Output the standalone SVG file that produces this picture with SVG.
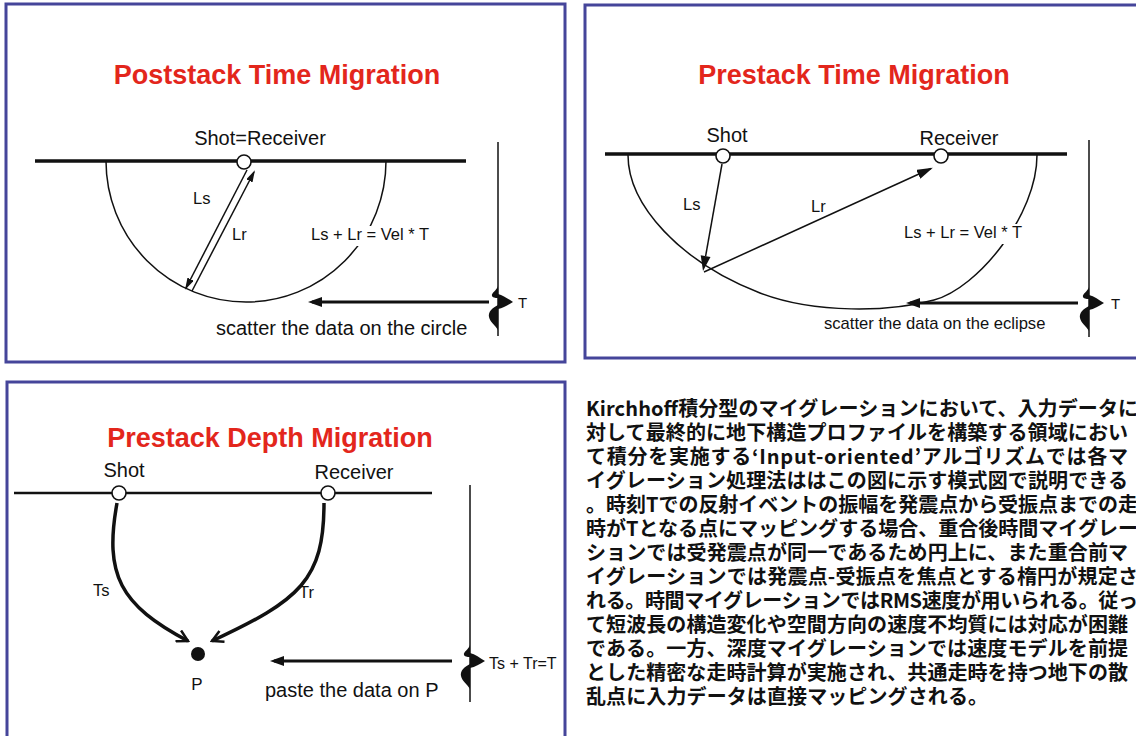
<svg xmlns="http://www.w3.org/2000/svg" width="1136" height="736" viewBox="0 0 1136 736">
<style>
.panel{fill:#fff;stroke:#45459a;stroke-width:3}
.title{font-family:"Liberation Sans",Arial,sans-serif;font-weight:bold;font-size:27px;fill:#e3261c;text-anchor:middle}
.lbl{font-family:"Liberation Sans",Arial,sans-serif;font-size:20px;fill:#111}
.sm{font-family:"Liberation Sans",Arial,sans-serif;font-size:16.5px;fill:#111}
.ground{stroke:#111;stroke-width:3.5;fill:none}
.thin{stroke:#111;stroke-width:1.5;fill:none}
.thick{stroke:#111;stroke-width:3.5;fill:none}
.harrow{stroke:#111;stroke-width:3;fill:none}
.stn{fill:#fff;stroke:#111;stroke-width:1.6}
.head{fill:#111;stroke:none}
.jp{font-family:"Noto Sans CJK JP",sans-serif;font-size:20px;font-weight:bold;fill:#111}
</style>
<defs>
<marker id="big" viewBox="0 0 14 10" refX="10" refY="5" markerWidth="14" markerHeight="10" markerUnits="userSpaceOnUse" orient="auto"><path d="M0,0 L14,5 L0,10 Z" fill="#111"/></marker>
<marker id="small" viewBox="0 0 12 7" refX="10" refY="3.5" markerWidth="12" markerHeight="7" markerUnits="userSpaceOnUse" orient="auto"><path d="M0,0 L12,3.5 L0,7 Z" fill="#111"/></marker>
<marker id="mid" viewBox="0 0 16 10" refX="14" refY="5" markerWidth="16" markerHeight="10" markerUnits="userSpaceOnUse" orient="auto"><path d="M0,0 L16,5 L0,10 Z" fill="#111"/></marker>
<marker id="open" viewBox="0 0 14 14" refX="12" refY="7" markerWidth="14" markerHeight="14" markerUnits="userSpaceOnUse" orient="auto"><path d="M1,1 L12,7 L1,13" fill="none" stroke="#111" stroke-width="2.5"/></marker>
<g id="wav" fill="#111">
<path d="M0,-16 C-1,-12 -7,-9 -6,-6 C-5,-4 -1,-4 0,-4 Z"/>
<path d="M0,-8 C5,-7 10,-3 15,0 C10,3 5,6 0,7 Z"/>
<path d="M0,3 C-6,6 -10,10 -9,15 C-8,20 -3,23 0,28 Z"/>
</g>
</defs>
<rect width="1136" height="736" fill="#fff"/>

<g id="panel-poststack">
<rect class="panel" x="6" y="4" width="559" height="358"/>
<text class="title" x="277" y="84">Poststack Time Migration</text>
<text class="lbl" x="260" y="145" text-anchor="middle">Shot=Receiver</text>
<line class="ground" x1="35" y1="161" x2="466" y2="161"/>
<path class="thin" d="M106,161 A140,141 0 0 0 386,161"/>
<rect x="308" y="226" width="126" height="20" fill="#fff"/>
<circle class="stn" cx="244" cy="162" r="7"/>
<text class="sm" x="193" y="204">Ls</text>
<text class="sm" x="232" y="240">Lr</text>
<text class="sm" x="311" y="240">Ls + Lr = Vel * T</text>
<line class="thin" x1="498" y1="142" x2="498" y2="336"/>
<use href="#wav" x="498" y="302"/>
<text class="sm" x="518" y="308" style="font-size:15px">T</text>
<text class="lbl" x="216" y="335">scatter the data on the circle</text>
</g>

<g id="panel-prestack-time">
<rect class="panel" x="585" y="5" width="560" height="353"/>
<text class="title" x="854" y="84">Prestack Time Migration</text>
<text class="lbl" x="727" y="142" text-anchor="middle">Shot</text>
<text class="lbl" x="959" y="145" text-anchor="middle">Receiver</text>
<line class="ground" x1="605" y1="154" x2="1067" y2="154"/>
<path class="thin" d="M628,155 C628,205 680,262 760,293 C815,314 890,312 934,300 C978,288 1037,215 1037,155"/>
<rect x="900" y="224" width="128" height="20" fill="#fff"/>
<circle class="stn" cx="723" cy="156" r="7"/>
<circle class="stn" cx="941" cy="156" r="7"/>
<text class="sm" x="683" y="210">Ls</text>
<text class="sm" x="811" y="212">Lr</text>
<text class="sm" x="904" y="238">Ls + Lr = Vel * T</text>
<line class="thin" x1="1089" y1="140" x2="1089" y2="337"/>
<use href="#wav" x="1089" y="303"/>
<text class="sm" x="1111" y="309" style="font-size:15px">T</text>
<text class="sm" x="824" y="329" style="font-size:16.6px">scatter the data on the eclipse</text>
</g>

<g id="panel-prestack-depth">
<rect class="panel" x="7" y="382" width="558" height="370"/>
<text class="title" x="270" y="447">Prestack Depth Migration</text>
<text class="lbl" x="124" y="477" text-anchor="middle">Shot</text>
<text class="lbl" x="354" y="479" text-anchor="middle">Receiver</text>
<line class="ground" x1="14" y1="493" x2="432" y2="493" style="stroke-width:2.5"/>
<circle class="stn" cx="119" cy="493" r="7"/>
<circle class="stn" cx="328" cy="493" r="7"/>
<text class="sm" x="93" y="596">Ts</text>
<text class="sm" x="299" y="598">Tr</text>
<circle cx="198" cy="654" r="7" fill="#111"/>
<text class="sm" x="197" y="690" text-anchor="middle" style="font-size:17px">P</text>
<line class="thin" x1="470" y1="485" x2="470" y2="702"/>
<use href="#wav" x="470" y="661"/>
<text class="sm" x="489" y="669" style="font-size:16px">Ts + Tr=T</text>
<text class="lbl" x="265" y="697">paste the data on P</text>
</g>

<g id="connectors">
<line class="thin" x1="247" y1="170" x2="186" y2="288" marker-end="url(#small)"/>
<line class="thin" x1="192" y1="291" x2="254" y2="172" marker-end="url(#small)"/>
<line class="harrow" x1="489" y1="302" x2="312" y2="302" marker-end="url(#big)"/>
<line class="thin" x1="722" y1="164" x2="705.6" y2="256.2"/>
<polygon class="head" points="703,271 710.5,257.1 700.7,255.3"/>
<line class="thin" x1="704" y1="272" x2="931" y2="168.5" marker-end="url(#mid)"/>
<line class="harrow" x1="1078" y1="303" x2="910" y2="303" marker-end="url(#big)"/>
<path class="thick" d="M117,503 C104,575 120,605 188,641" marker-end="url(#open)"/>
<path class="thick" d="M324,503 C324,580 300,600 212,641" marker-end="url(#open)"/>
<line class="harrow" x1="452" y1="661" x2="274" y2="661" marker-end="url(#big)"/>
</g>

<g id="description">
<text class="jp" x="586" y="416" textLength="552" lengthAdjust="spacing">Kirchhoff積分型のマイグレーションにおいて、入力データに</text>
<text class="jp" x="586" y="440" textLength="542" lengthAdjust="spacing">対して最終的に地下構造プロファイルを構築する領域におい</text>
<text class="jp" x="586" y="464" textLength="542" lengthAdjust="spacing">て積分を実施する‘Input-oriented’アルゴリズムでは各マ</text>
<text class="jp" x="586" y="488" textLength="542" lengthAdjust="spacing">イグレーション処理法ははこの図に示す模式図で説明できる</text>
<text class="jp" x="586" y="512" textLength="552" lengthAdjust="spacing">。時刻Tでの反射イベントの振幅を発震点から受振点までの走</text>
<text class="jp" x="586" y="536" textLength="552" lengthAdjust="spacing">時がTとなる点にマッピングする場合、重合後時間マイグレー</text>
<text class="jp" x="586" y="560" textLength="542" lengthAdjust="spacing">ションでは受発震点が同一であるため円上に、また重合前マ</text>
<text class="jp" x="586" y="584" textLength="552" lengthAdjust="spacing">イグレーションでは発震点-受振点を焦点とする楕円が規定さ</text>
<text class="jp" x="586" y="608" textLength="552" lengthAdjust="spacing">れる。時間マイグレーションではRMS速度が用いられる。従っ</text>
<text class="jp" x="586" y="632" textLength="542" lengthAdjust="spacing">て短波長の構造変化や空間方向の速度不均質には対応が困難</text>
<text class="jp" x="586" y="656" textLength="542" lengthAdjust="spacing">である。一方、深度マイグレーションでは速度モデルを前提</text>
<text class="jp" x="586" y="680" textLength="542" lengthAdjust="spacing">とした精密な走時計算が実施され、共通走時を持つ地下の散</text>
<text class="jp" x="586" y="704" textLength="402" lengthAdjust="spacing">乱点に入力データは直接マッピングされる。</text>
</g>
</svg>
